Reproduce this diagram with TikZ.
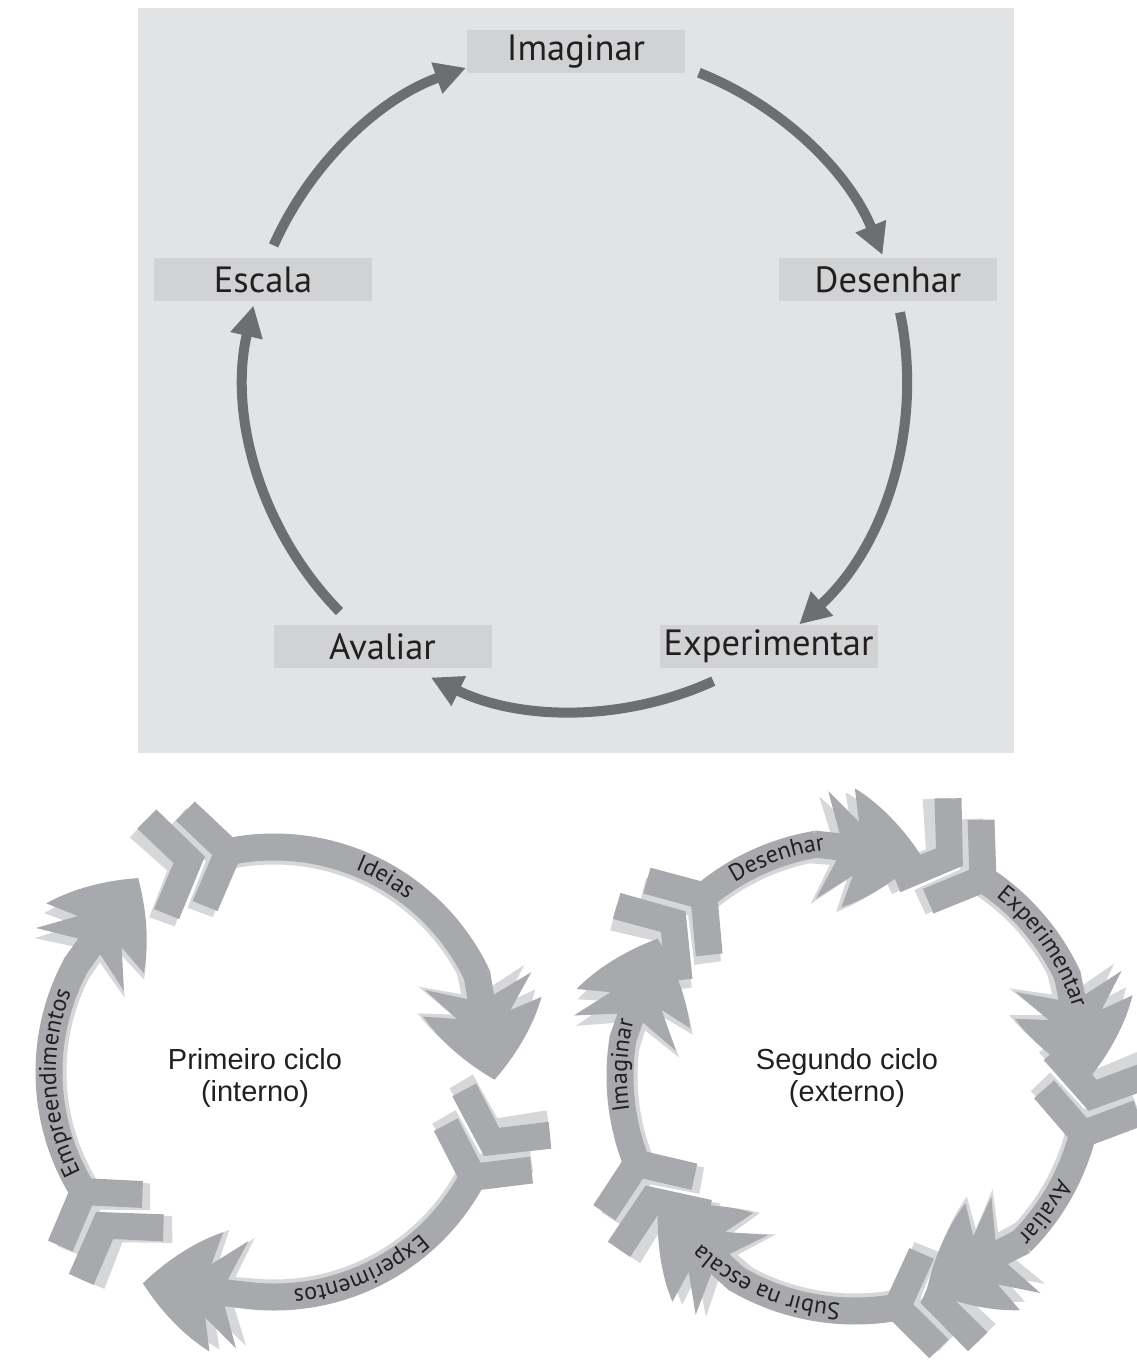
\documentclass[tikz,border=0pt]{standalone}
\usepackage{fontspec}
\setmainfont{PT Sans}
\newfontfamily\arialfont{Liberation Sans}
\usetikzlibrary{arrows.meta,decorations.text}

\definecolor{panel}{HTML}{E2E3E5}
\definecolor{tag}{HTML}{D1D2D4}
\definecolor{ink}{HTML}{231F20}
\definecolor{loop}{HTML}{6D6E71}
\definecolor{band}{HTML}{A7A9AC}
\definecolor{bandshade}{HTML}{D6D7D9}

\newcommand\arcfont{\fontsize{24}{24}\selectfont}

% One fletched arrow on a ring: #1 radius, #2 angle of the fletching,
% #3 angle where the barbed head starts, #4 inward turn of the head,
% #5 fill colour
\newcommand\ringarrow[5]{%
  \pgfmathsetmacro\ra{#1+13.5}\pgfmathsetmacro\rb{#1-13.5}%
  \fill[#5] (#2:\ra) arc[start angle=#2, end angle=#3, radius=\ra]
    -- (#3:\rb) arc[start angle=#3, end angle=#2, radius=\rb] -- cycle;
  \begin{scope}[shift={(#3:#1)}, rotate={#3-90-#4}]
    \fill[#5] (-3,13.5) -- (22,13.5) -- (6,54) -- (40,27) -- (32,60)
      .. controls (62,46) and (88,22) .. (106,0)
      .. controls (88,-22) and (62,-46) .. (32,-60)
      -- (40,-27) -- (6,-54) -- (22,-13.5) -- (-3,-13.5) -- cycle;
  \end{scope}
  \begin{scope}[shift={(#2:#1)}, rotate={#2-90}]
    \fill[#5] (7,13.5) -- (-22.7,56) -- (-45,41) -- (-16.5,0)
      -- (-45,-41) -- (-22.7,-56) -- (7,-13.5) -- cycle;
    \fill[#5] (-24,0) -- (-62,56) -- (-84.5,41) -- (-56,0)
      -- (-84.5,-41) -- (-62,-56) -- cycle;
  \end{scope}
}

% A ring of arrows: shaded copies first, then the arrows themselves.
% #1 radius, #2 list of fletching/head/turn triples
\newcommand\arrowring[2]{%
  \foreach \t/\h/\k in {#2}
    {\pgfmathsetmacro\rr{#1-4}\pgfmathsetmacro\tt{\t+2}\pgfmathsetmacro\hh{\h+2}%
     \ringarrow{\rr}{\tt}{\hh}{\k}{bandshade}}
  \foreach \t/\h/\k in {#2}
    {\ringarrow{#1}{\t}{\h}{\k}{band}}
}

% Text set along a ring, read clockwise: #1 radius, #2 middle angle, #3 text
\newcommand\arclabel[3]{%
  \path[decorate, decoration={text along path, text align=center,
      text color=ink, text={|\arcfont|#3}}]
    ({#2+50}:#1) arc[start angle={#2+50}, end angle={#2-50}, radius=#1];
}

\begin{document}
\begin{tikzpicture}[x=1pt, y=1pt,
  tagbox/.style={fill=tag, minimum width=218pt, minimum height=43pt,
    inner sep=0pt, text=ink, font=\fontsize{36.5}{36.5}\selectfont},
  loopline/.style={draw=loop, line width=10pt,
    -{Triangle[length=31pt, width=31pt]}},
  centre/.style={align=center, text=ink,
    font=\arialfont\fontsize{29}{32}\selectfont}]

\useasboundingbox (0,0) rectangle (1136,-1364);
\fill[white] (0,0) rectangle (1136,-1364);

% ---- upper panel: five steps round a circle
\fill[panel] (138,-8) rectangle (1014,-753);
\coordinate (ctr) at (576,-380);
\node[tagbox] (imag) at (576,-51.5) {Imaginar};
\node[tagbox] (des)  at (888,-279.5) {Desenhar};
\node[tagbox] (esc)  at (263,-279.5) {Escala};
\node[tagbox] (exp)  at (768.5,-646.5) {Experimentar};
\node[tagbox] (aval) at (382.5,-646.5) {Avaliar};
\foreach \s/\e in {68.2/22.2, 11.8/-47.6, -65.5/-116, -135.6/-193, 156/109.4}
  \draw[loopline] ([shift={(\s:331)}]ctr) arc[start angle=\s, end angle=\e, radius=331];

% ---- first (inner) cycle
\coordinate (c1) at (274,-1072);
\begin{scope}[shift={(c1)}]
  \arrowring{225}{101.7/25.5/16, -27.9/-96.6/0, 212.1/151.4/7}
  \arclabel{218}{60.2}{Ideias}
  \arclabel{218}{-66.4}{Experimentos}
  \arclabel{218}{183}{Empreendimentos}
\end{scope}
\node[centre] (c1lab) at (255,-1078) {Primeiro ciclo\\(interno)};

% ---- second (outer) cycle
\coordinate (c2) at (855,-1076);
\begin{scope}[shift={(c2)}]
  \arrowring{235}{130/99.5/16, 57/25.3/14, -14.3/-45/18, -79.7/-120.3/12, 201.8/170.9/10}
  \arclabel{228}{109.7}{Desenhar}
  \arclabel{228}{34.5}{Experimentar}
  \arclabel{228}{-35.6}{Avaliar}
  \arclabel{228}{-113.1}{Subir na escala}
  \arclabel{228}{177.4}{Imaginar}
\end{scope}
\node[centre] (c2lab) at (847,-1078) {Segundo ciclo\\(externo)};

\end{tikzpicture}
\end{document}
